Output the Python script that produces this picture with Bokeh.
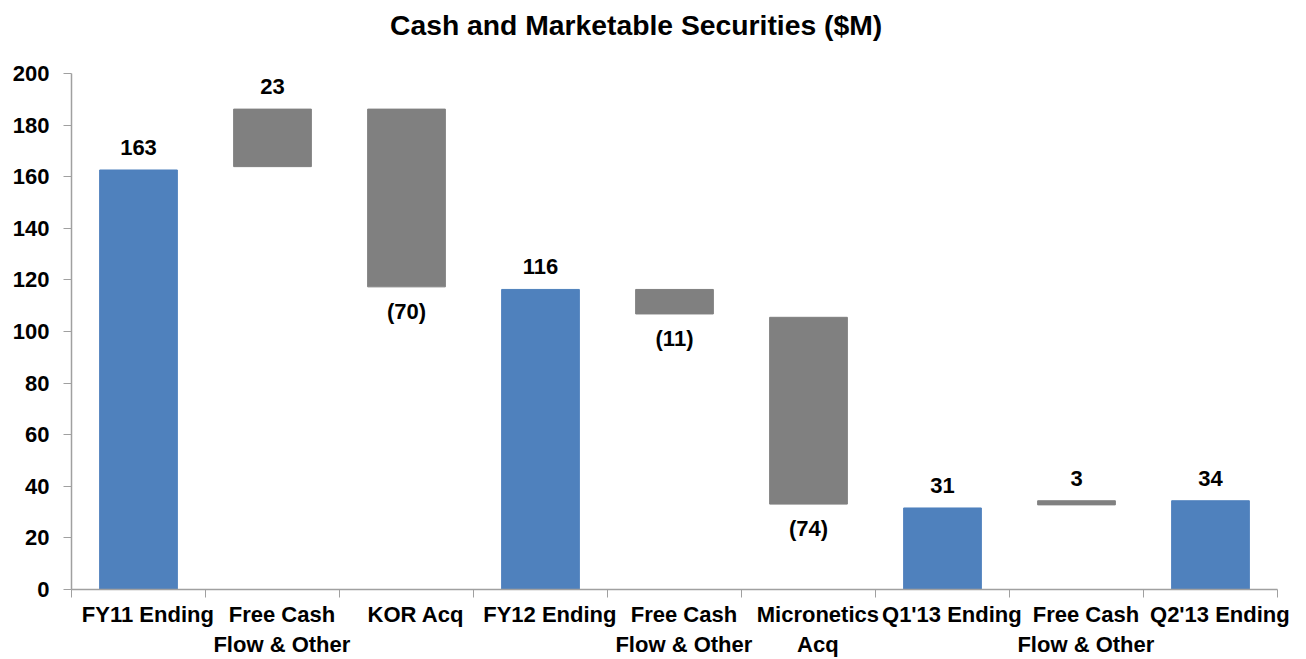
from bokeh.plotting import figure
from bokeh.models import ColumnDataSource, FixedTicker, Range1d, Div
from bokeh.layouts import column
from bokeh.core.properties import value
from bokeh.embed import file_html
from bokeh.resources import INLINE

# ---- data ----
categories = ["FY11 Ending", "Free Cash\nFlow & Other", "KOR Acq", "FY12 Ending",
              "Free Cash\nFlow & Other", "Micronetics\nAcq", "Q1'13 Ending",
              "Free Cash\nFlow & Other", "Q2'13 Ending"]
kinds = ["total", "up", "down", "total", "down", "down", "total", "up", "total"]
bar_bottom = [0, 163.9, 117.3, 0, 106.8, 33.1, 0, 32.8, 0]
bar_top = [162.6, 186.2, 186.2, 116.3, 116.3, 105.5, 31.6, 34.4, 34.4]
labels = ["163", "23", "(70)", "116", "(11)", "(74)", "31", "3", "34"]
y_ticks = [0, 20, 40, 60, 80, 100, 120, 140, 160, 180, 200]
title_text = "Cash and Marketable Securities ($M)"

FONT = "Liberation Sans"
BLUE = "#4F81BD"
GRAY = "#808080"
AXIS = "#A0A0A0"

n = len(categories)
xs = [i + 0.5 for i in range(n)]
colors = [BLUE if k == "total" else GRAY for k in kinds]

src = ColumnDataSource(dict(x=xs, bottom=bar_bottom, top=bar_top, color=colors))

TITLE_H = 50
p = figure(width=1306, height=659 - TITLE_H, output_backend="svg", toolbar_location=None,
           x_range=Range1d(0, n), y_range=Range1d(0, 200),
           min_border_left=71, min_border_right=29, min_border_top=23,
           min_border_bottom=0)
p.frame_height = 516
p.frame_width = 1206

p.vbar(x="x", bottom="bottom", top="top", width=0.58, color="color", source=src)

# data labels
pos_x, pos_y, pos_t, neg_x, neg_y, neg_t = [], [], [], [], [], []
for i, k in enumerate(kinds):
    if k == "down":
        neg_x.append(xs[i]); neg_y.append(bar_bottom[i]); neg_t.append(labels[i])
    else:
        pos_x.append(xs[i]); pos_y.append(bar_top[i]); pos_t.append(labels[i])

p.text(x=pos_x, y=pos_y, text=pos_t, text_align="center", text_baseline="bottom",
       y_offset=-15, text_font=value(FONT), text_font_style="bold",
       text_font_size="22px", text_color="black")
p.text(x=neg_x, y=neg_y, text=neg_t, text_align="center", text_baseline="top",
       y_offset=12, text_font=value(FONT), text_font_style="bold",
       text_font_size="22px", text_color="black")

# axes
p.grid.visible = False
p.outline_line_color = None

label_shift = 0.07
p.xaxis.ticker = FixedTicker(ticks=[x + label_shift for x in xs],
                             minor_ticks=list(range(n + 1)))
p.xaxis.major_label_overrides = {x + label_shift: c for x, c in zip(xs, categories)}
p.xaxis.major_tick_line_color = None
p.xaxis.major_tick_out = 8
p.xaxis.minor_tick_out = 8
p.xaxis.minor_tick_in = 0
p.xaxis.minor_tick_line_color = AXIS
p.xaxis.axis_line_color = AXIS
p.xaxis.major_label_standoff = 4

p.yaxis.ticker = FixedTicker(ticks=y_ticks)
p.yaxis.major_tick_out = 8
p.yaxis.major_tick_in = 0
p.yaxis.minor_tick_line_color = None
p.yaxis.major_tick_line_color = AXIS
p.yaxis.axis_line_color = AXIS
p.yaxis.major_label_standoff = 14

for ax in (p.xaxis, p.yaxis):
    ax.major_label_text_font = FONT
    ax.major_label_text_font_style = "bold"
    ax.major_label_text_font_size = "22px"
    ax.major_label_text_color = "black"
    ax.axis_line_width = 1.5

p.background_fill_color = "white"
p.border_fill_color = "white"

# title as a text block above the figure
title_div = Div(
    text=('<div style="font-family: \'Liberation Sans\'; font-weight: bold; '
          'font-size: 28.3px; line-height: 34px; color: black; '
          'padding-top: 8px; padding-left: 390px; white-space: nowrap; margin: 0;">'
          + title_text + '</div>'),
    width=1306, height=TITLE_H, margin=0)

layout = column(title_div, p, spacing=0)

open("out.html", "w").write(file_html(layout, INLINE))
